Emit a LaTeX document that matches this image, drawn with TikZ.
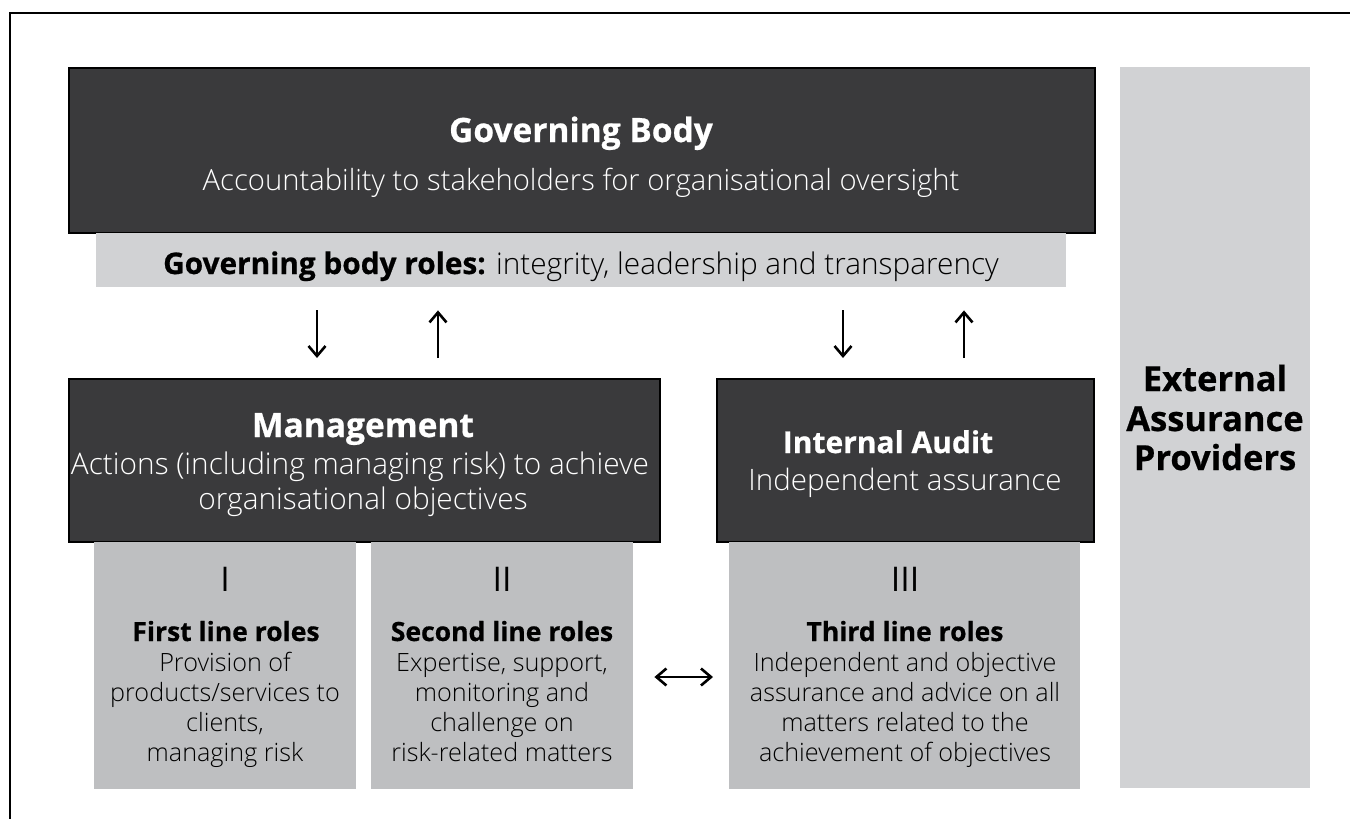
\documentclass[tikz,border=0pt]{standalone}
\usepackage{fontspec}
\setmainfont{Open Sans}
\newfontfamily\lightfont{Open Sans Light}
\newfontfamily\xboldfam{Open Sans}[BoldFeatures={FakeBold=0.6}]
\newcommand{\xbold}{\xboldfam\bfseries}
\usetikzlibrary{arrows.meta}
\definecolor{darkbox}{HTML}{3A3A3C}
\definecolor{lightgray}{HTML}{D1D2D4}
\definecolor{midgray}{HTML}{BEBFC1}
\tikzset{
  darkrect/.style={draw=black, line width=2pt, fill=darkbox, inner sep=0pt, anchor=north west},
  lightrect/.style={fill=lightgray, inner sep=0pt, anchor=north west},
  midrect/.style={fill=midgray, inner sep=0pt, anchor=north west},
  wtitle/.style={text=white, font=\fontsize{33.5}{38}\selectfont\xbold, anchor=base},
  wsub/.style={text=white, font=\fontsize{29.5}{34}\selectfont\lightfont, anchor=base},
  roman/.style={font=\fontsize{34}{38}\selectfont, anchor=base},
  ltitle/.style={font=\fontsize{26.5}{30}\selectfont\xbold, anchor=base},
  lbody/.style={font=\fontsize{25.2}{29}\selectfont\lightfont, anchor=base},
  etitle/.style={font=\fontsize{34.5}{38}\selectfont\xbold, anchor=base},
  arr/.style={line width=2.6pt, -{Straight Barb[length=10pt, width=17pt, line width=2.6pt]}},
  darr/.style={line width=2.6pt, {Straight Barb[length=10pt, width=17pt, line width=2.6pt]}-{Straight Barb[length=10pt, width=17pt, line width=2.6pt]}}
}
\begin{document}
\begin{tikzpicture}[x=1pt, y=-1pt]
\useasboundingbox (0,0) rectangle (1350,819);
\begin{scope}
\clip (0,0) rectangle (1350,819);
\draw[line width=2.2pt] (1360,13) -- (10,13) -- (10,830);
\end{scope}

% boxes
\node[darkrect, minimum width=1026pt, minimum height=165pt] (gb) at (68,67) {};
\node[lightrect, minimum width=970pt, minimum height=54pt] (strip) at (96,233) {};
\node[lightrect, minimum width=190pt, minimum height=721pt] (ext) at (1120,67) {};
\node[darkrect, minimum width=591pt, minimum height=163pt] (mgmt) at (68,378) {};
\node[darkrect, minimum width=377pt, minimum height=163pt] (ia) at (716,378) {};
\node[midrect, minimum width=262pt, minimum height=247pt] (first) at (94,542) {};
\node[midrect, minimum width=262pt, minimum height=247pt] (second) at (371,542) {};
\node[midrect, minimum width=351pt, minimum height=247pt] (third) at (729,542) {};

% governing body text
\node[wtitle] (gbt) at (581,142) {Governing Body};
\node[wsub, font=\fontsize{29.2}{34}\selectfont\lightfont] (gbs) at (581,190) {Accountability to stakeholders for organisational oversight};
\node[font=\fontsize{29.8}{34}\selectfont, anchor=base] (stript) at (581,274) {{\xbold Governing body roles:} {\lightfont integrity, leadership and transparency}};

% management
\node[wtitle] (mt) at (363,437) {Management};
\node[wsub, font=\fontsize{29.8}{34}\selectfont\lightfont] (ms1) at (360,474) {Actions (including managing risk) to achieve};
\node[wsub, font=\fontsize{29.8}{34}\selectfont\lightfont] (ms2) at (363,509) {organisational objectives};

% internal audit
\node[wtitle, font=\fontsize{30}{34}\selectfont\xbold] (iat) at (888,453) {Internal Audit};
\node[wsub] (ias) at (905,490) {Independent assurance};

% external
\node[etitle] (e1) at (1215,391) {External};
\node[etitle] (e2) at (1215,431) {Assurance};
\node[etitle] (e3) at (1215,470) {Providers};

% line roles
\node[roman] (r1) at (225,591) {I};
\node[roman] (r2) at (502,591) {II};
\node[roman] (r3) at (905,591) {III};

\node[ltitle] (f0) at (226,641) {First line roles};
\node[lbody] (f1) at (225,671) {Provision of};
\node[lbody] (f2) at (225,701) {products/services to};
\node[lbody] (f3) at (225,731) {clients,};
\node[lbody] (f4) at (225,761) {managing risk};

\node[ltitle] (s0) at (502,641) {Second line roles};
\node[lbody] (s1) at (502,671) {Expertise, support,};
\node[lbody] (s2) at (502,701) {monitoring and};
\node[lbody] (s3) at (502,731) {challenge on};
\node[lbody] (s4) at (502,761) {risk-related matters};

\node[ltitle] (t0) at (905,641) {Third line roles};
\node[lbody] (t1) at (905,671) {Independent and objective};
\node[lbody] (t2) at (905,701) {assurance and advice on all};
\node[lbody] (t3) at (905,731) {matters related to the};
\node[lbody] (t4) at (905,761) {achievement of objectives};

% arrows
\coordinate (x1) at (317,0);
\coordinate (x2) at (438,0);
\coordinate (x3) at (843,0);
\coordinate (x4) at (964,0);
\coordinate (ym) at (0,677);
\draw[arr, shorten <=23pt, shorten >=20pt] (strip.south -| x1) -- (mgmt.north -| x1);
\draw[arr, shorten <=20pt, shorten >=23pt] (mgmt.north -| x2) -- (strip.south -| x2);
\draw[arr, shorten <=23pt, shorten >=20pt] (strip.south -| x3) -- (ia.north -| x3);
\draw[arr, shorten <=20pt, shorten >=23pt] (ia.north -| x4) -- (strip.south -| x4);
\draw[darr, shorten <=21pt, shorten >=16pt] (second.east |- ym) -- (third.west |- ym);
\end{tikzpicture}
\end{document}
